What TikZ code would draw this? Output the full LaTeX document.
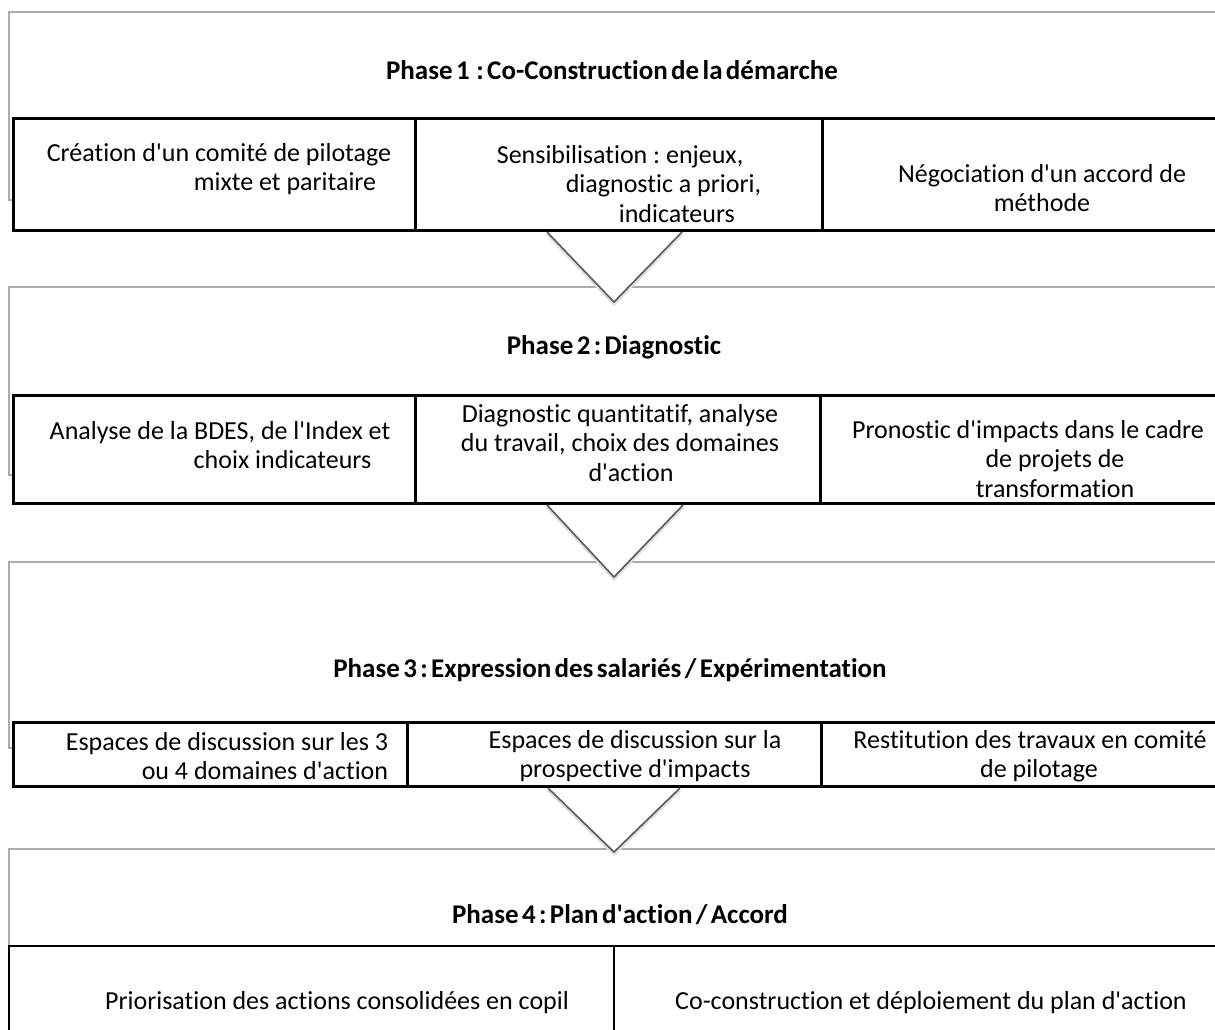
\documentclass[tikz,border=0pt]{standalone}
\usepackage{fontspec}
\setmainfont{Carlito}[Ligatures=NoCommon]
\newfontfamily\titlefont[WordSpace=0.55,Ligatures=NoCommon]{Carlito}
\usepackage{tikz}
\newcommand{\ap}{\textquotesingle}
\frenchspacing

\begin{document}
\begin{tikzpicture}[x=1pt,y=-1pt,
	panel/.style ={draw=gray!65, line width=1.5pt, fill=white},
	cell/.style ={draw=black, line width=3pt, fill=white},
	thincell/.style ={draw=black, line width=1.3pt, fill=white},
	phase/.style ={inner sep=0pt, font=\titlefont\bfseries\fontsize{27}{31}\selectfont},
	txt/.style ={inner sep=0pt, align=center, font=\fontsize{26}{29.5}\selectfont},
	vshape/.style ={draw=gray!70!black, line width=1.6pt, line join=miter}]
		\useasboundingbox (0,0) rectangle (1215,1029);
		\clip (0,0) rectangle (1215,1029);
		% grey panels
		\draw[panel] (9,12) rectangle (1260,200);
		\draw[panel] (9,287) rectangle (1260,475);
		\draw[panel] (9,562) rectangle (1260,748);
		\draw[panel] (9,849) rectangle (1260,1040);
		% tables
		\draw[cell] (13,118) rectangle (415,230);
		\draw[cell] (415,118) rectangle (822,230);
		\draw[cell] (822,118) rectangle (1260,230);
		\draw[cell] (13,395) rectangle (415,503);
		\draw[cell] (415,395) rectangle (820,503);
		\draw[cell] (820,395) rectangle (1260,503);
		\draw[cell] (13,722) rectangle (407,786);
		\draw[cell] (407,722) rectangle (821,786);
		\draw[cell] (821,722) rectangle (1260,786);
		\draw[thincell] (9,946) rectangle (614,1040);
		\draw[thincell] (614,946) rectangle (1260,1040);
		% chevrons between phases
		\coordinate (v1l) at (547,232); \coordinate (v1) at (614,302); \coordinate (v1r) at (682,232);
		\coordinate (v2l) at (547,505); \coordinate (v2) at (614,577); \coordinate (v2r) at (683,505);
		\coordinate (v3l) at (548,788); \coordinate (v3) at (614,852); \coordinate (v3r) at (680,788);
		\fill[white] (v1l) -- (v1) -- (v1r) -- cycle;
		\fill[white] (v2l) -- (v2) -- (v2r) -- cycle;
		\fill[white] (v3l) -- (v3) -- (v3r) -- cycle;
		\draw[gray!25, line width=3pt, transform canvas={yshift=-2pt}] (v1l) -- (v1) -- (v1r);
		\draw[gray!25, line width=3pt, transform canvas={yshift=-2pt}] (v2l) -- (v2) -- (v2r);
		\draw[gray!25, line width=3pt, transform canvas={yshift=-2pt}] (v3l) -- (v3) -- (v3r);
		\draw[vshape] (v1l) -- (v1) -- (v1r);
		\draw[vshape] (v2l) -- (v2) -- (v2r);
		\draw[vshape] (v3l) -- (v3) -- (v3r);
		% phase titles
		\node[phase] (ph1) at (612,70) {Phase 1 \ : Co-Construction de la démarche};
		\node[phase] (ph2) at (614,347) {Phase 2 : Diagnostic};
		\node[phase] (ph3) at (610,670) {Phase 3 : Expression des salariés / Expérimentation};
		\node[phase] (ph4) at (620,915) {Phase 4 : Plan d\ap action / Accord};
		% cell texts
		\node[txt, align=right] (t11) at (219,169) {Création d\ap un comité de pilotage\\mixte et paritaire\hspace*{15pt}};
		\node[txt, align=left] (t12) at (629,184) {Sensibilisation : enjeux,\\\hspace*{69pt}diagnostic a priori,\\\hspace*{122pt}indicateurs};
		\node[txt] (t13) at (1042,188) {Négociation d\ap un accord de\\méthode};
		\node[txt, align=right] (t21) at (220,445) {Analyse de la BDES, de l\ap Index et\\choix indicateurs\hspace*{19pt}};
		\node[txt] (t22) at (620,443) {Diagnostic quantitatif, analyse\\du travail, choix des domaines\\\hspace*{22pt}d\ap action};
		\node[txt] (t23) at (1028,459) {Pronostic d\ap impacts dans le cadre\\\hspace*{54pt}de projets de\\\hspace*{54pt}transformation};
		\node[txt, align=right] (t31) at (227,756) {Espaces de discussion sur les 3\\ou 4 domaines d\ap action};
		\node[txt] (t32) at (635,756) {Espaces de discussion sur la\\prospective d\ap impacts};
		\node[txt] (t33) at (1030,756) {Restitution des travaux en comité\\\hspace*{18pt}de pilotage};
		\node[txt] (t41) at (337,1003) {Priorisation des actions consolidées en copil};
		\node[txt] (t42) at (931,1003) {Co-construction et déploiement du plan d\ap action};
	\end{tikzpicture}
\end{document}
